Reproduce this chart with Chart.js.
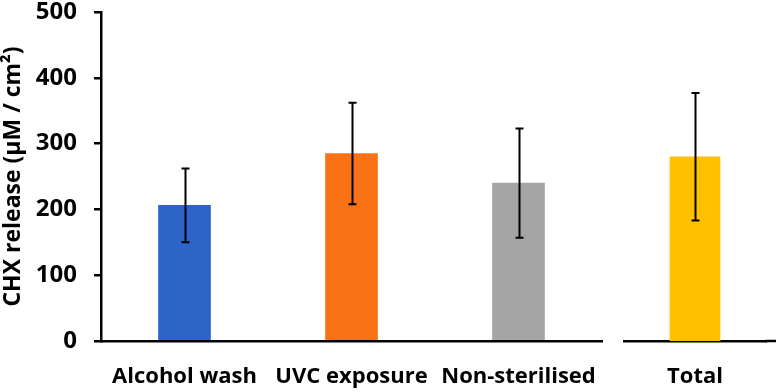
<!DOCTYPE html>
<html>
<head>
<meta charset="utf-8">
<script src="https://cdn.jsdelivr.net/npm/chart.js@4"></script>
<style>
  html, body { margin: 0; padding: 0; background: #fff; }
  #wrap { position: relative; width: 779px; height: 392px; background: #fff; }
  #c1 { position: absolute; left: 0; top: 0; }
  #c2 { position: absolute; left: 606px; top: 0; }
</style>
</head>
<body>
<div id="wrap">
  <canvas id="c1" width="606" height="392"></canvas>
  <canvas id="c2" width="173" height="392"></canvas>
</div>
<script>
// ---- data ----
const categories = ['Alcohol wash', 'UVC exposure', 'Non-sterilised'];
const releaseMeans = [206, 285, 240];
const releaseErrors = [56, 77, 83];
const barColors = ['#2E63C8', '#F97316', '#A5A5A5'];

const totalCategory = ['Total'];
const totalMean = [280];
const totalError = [97];
const totalColor = ['#FFC000'];

const yTickValues = [0, 100, 200, 300, 400, 500];
const yTitle = 'CHX release (\u00B5M / cm\u00B2)';

const FONT = '"Open Sans", "DejaVu Sans", sans-serif';

// ---- plugins ----
const errorBars = {
  id: 'errorBars',
  afterDatasetsDraw(chart, args, opts) {
    const ctx = chart.ctx;
    const y = chart.scales.y;
    chart.data.datasets.forEach((ds, di) => {
      const meta = chart.getDatasetMeta(di);
      const errs = ds.errors || [];
      meta.data.forEach((bar, i) => {
        const v = ds.data[i], e = errs[i];
        if (e == null) return;
        const x = Math.round(bar.x) + 0.5;
        const yt = y.getPixelForValue(v + e);
        const yb = y.getPixelForValue(v - e);
        ctx.save();
        ctx.strokeStyle = '#000';
        ctx.lineWidth = 2;
        ctx.beginPath();
        ctx.moveTo(x, yt); ctx.lineTo(x, yb);
        ctx.moveTo(x - 4, yt); ctx.lineTo(x + 4, yt);
        ctx.moveTo(x - 4, yb); ctx.lineTo(x + 4, yb);
        ctx.stroke();
        ctx.restore();
      });
    });
  }
};

const extendAxis = {
  id: 'extendAxis',
  afterDraw(chart, args, opts) {
    if (!opts || !opts.right) return;
    const ctx = chart.ctx;
    const a = chart.chartArea;
    const yb = chart.scales.y.getPixelForValue(0);
    ctx.save();
    ctx.strokeStyle = '#000';
    ctx.lineWidth = 2.5;
    ctx.beginPath();
    ctx.moveTo(a.right - 1, yb);
    ctx.lineTo(a.right + opts.right, yb);
    ctx.stroke();
    ctx.restore();
  }
};

function xAxis(fontSize) {
  return {
    type: 'category',
    offset: true,
    grid: { display: false },
    border: { display: true, color: '#000', width: 2.5 },
    ticks: { color: '#000', font: { family: FONT, size: fontSize, weight: 'bold' }, padding: 15, maxRotation: 0, autoSkip: false },
    afterFit(scale) { scale.height = 51; scale.paddingLeft = 0; scale.paddingRight = 0; }
  };
}

// ---- chart 1 ----
new Chart(document.getElementById('c1'), {
  type: 'bar',
  data: {
    labels: categories,
    datasets: [{
      data: releaseMeans,
      errors: releaseErrors,
      backgroundColor: barColors,
      borderWidth: 0,
      barThickness: 52
    }]
  },
  options: {
    responsive: false,
    animation: false,
    devicePixelRatio: 1,
    layout: { padding: { top: 12, right: 4, left: 0, bottom: 0 } },
    plugins: { legend: { display: false }, tooltip: { enabled: false } },
    scales: {
      x: xAxis(22),
      y: {
        min: 0, max: 500,
        afterBuildTicks(scale) { scale.ticks = yTickValues.map(v => ({ value: v })); },
        grid: { display: true, drawOnChartArea: false, drawTicks: true, tickLength: 7, color: '#000', lineWidth: 2.5 },
        border: { display: true, color: '#000', width: 2.5 },
        ticks: { color: '#000', font: { family: FONT, size: 24, weight: 'bold' }, padding: 17 },
        title: { display: true, text: yTitle, color: '#000', font: { family: FONT, size: 23, weight: 'bold' }, padding: { top: 0, bottom: 0 } },
        afterFit(scale) { scale.width = 101; scale.paddingTop = 0; scale.paddingBottom = 0; }
      }
    }
  },
  plugins: [errorBars]
});

// ---- chart 2 ----
new Chart(document.getElementById('c2'), {
  type: 'bar',
  data: {
    labels: totalCategory,
    datasets: [{
      data: totalMean,
      errors: totalError,
      backgroundColor: totalColor,
      borderWidth: 0,
      barThickness: 50
    }]
  },
  options: {
    responsive: false,
    animation: false,
    devicePixelRatio: 1,
    layout: { padding: { top: 12, right: 13, left: 18, bottom: 0 } },
    plugins: { legend: { display: false }, tooltip: { enabled: false }, extendAxis: { right: 10 } },
    scales: {
      x: xAxis(22),
      y: { display: false, min: 0, max: 500 }
    }
  },
  plugins: [errorBars, extendAxis]
});
</script>
</body>
</html>
